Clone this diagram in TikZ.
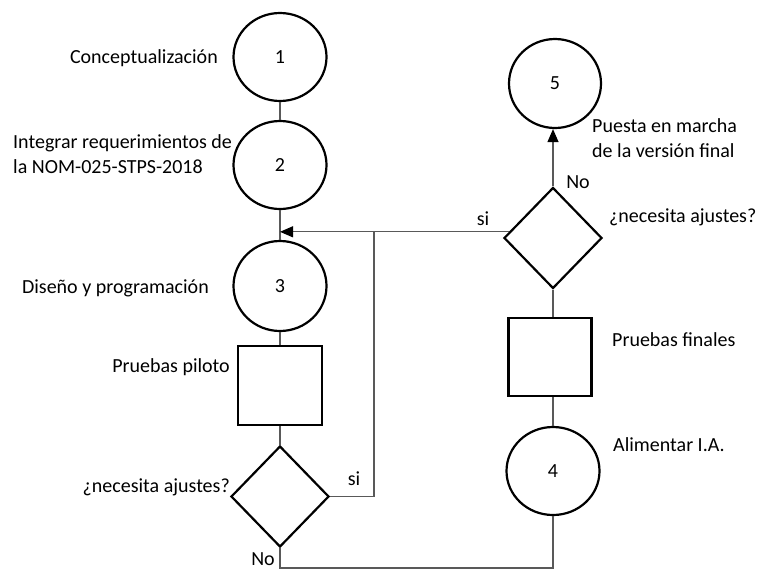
\documentclass[tikz,border=0pt]{standalone}
\usepackage{fontspec}
\setmainfont{Carlito}
\usetikzlibrary{shapes.geometric,arrows.meta}
\begin{document}
\begin{tikzpicture}[x=1pt,y=-1pt,
  every node/.style={font=\fontsize{20}{25}\selectfont, inner sep=0pt},
  circ/.style={ellipse, draw=black, line width=2.2pt, minimum width=93pt, minimum height=88pt},
  boxnode/.style={rectangle, draw=black, line width=2.2pt, minimum width=84pt, minimum height=79pt},
  decision/.style={diamond, draw=black, line width=2.2pt, minimum width=98pt, minimum height=101pt},
  conn/.style={draw=black!65, line width=1.1pt},
  tip/.style={-{Triangle[length=13pt,width=11pt,color=black]}},
  lbl/.style={anchor=east},
  rlbl/.style={anchor=west, align=left}]
\useasboundingbox (0,0) rectangle (759,571);
% left column
\node[circ] (c1) at (280,57) {1};
\node[circ] (c2) at (280,165) {2};
\node[circ, minimum height=90pt] (c3) at (280,286) {3};
\node[boxnode] (s1) at (280,385.5) {};
\node[decision] (d1) at (280,496.5) {};
% right column
\node[circ, minimum width=92pt, minimum height=89pt] (c5) at (555,83.5) {5};
\node[decision] (d2) at (553,238) {};
\node[boxnode, minimum width=83pt, minimum height=78pt] (s2) at (550,357) {};
\node[circ] (c4) at (553,471) {4};
% texts
\node[lbl] (t1) at (218,58) {Conceptualización};
\node[rlbl] (t2) at (13,154.5) {Integrar requerimientos de\\la NOM-025-STPS-2018};
\node[lbl] (t3) at (209,288) {Diseño y programación};
\node[lbl] (t4) at (230,367) {Pruebas piloto};
\node[lbl] (t5) at (230,487) {¿necesita ajustes?};
\node[rlbl] (t6) at (592,138.5) {Puesta en marcha\\de la versión final};
\node[rlbl] (t7) at (609,217) {¿necesita ajustes?};
\node[rlbl] (t8) at (612,340) {Pruebas finales};
\node[rlbl] (t9) at (613,445) {Alimentar I.A.};
\node (si1) at (483,219) {si};
\node (si2) at (354,479) {si};
\node (no1) at (263,559) {No};
\node (no2) at (578,182) {No};
% connectors
\coordinate (j1) at (374,232);
\coordinate (bot) at (553,568);
\draw[conn] (c1) -- (c2);
\draw[conn] (c2) -- (c3);
\draw[conn] (c3) -- (s1);
\draw[conn] (s1) -- (d1);
\draw[conn] (d1.east) -| (j1);
\draw[conn, tip] (d2.172) -- (d2.172 -| c2.south);
\draw[conn] (d1.south) |- (bot) -- (c4.south);
\draw[conn] (c4) -- (s2.south -| c4.south);
\draw[conn] (s2.north -| d2.south) -- (d2.south);
\draw[conn, tip] (d2.north) -- (d2.north |- c5.south);
\end{tikzpicture}
\end{document}
